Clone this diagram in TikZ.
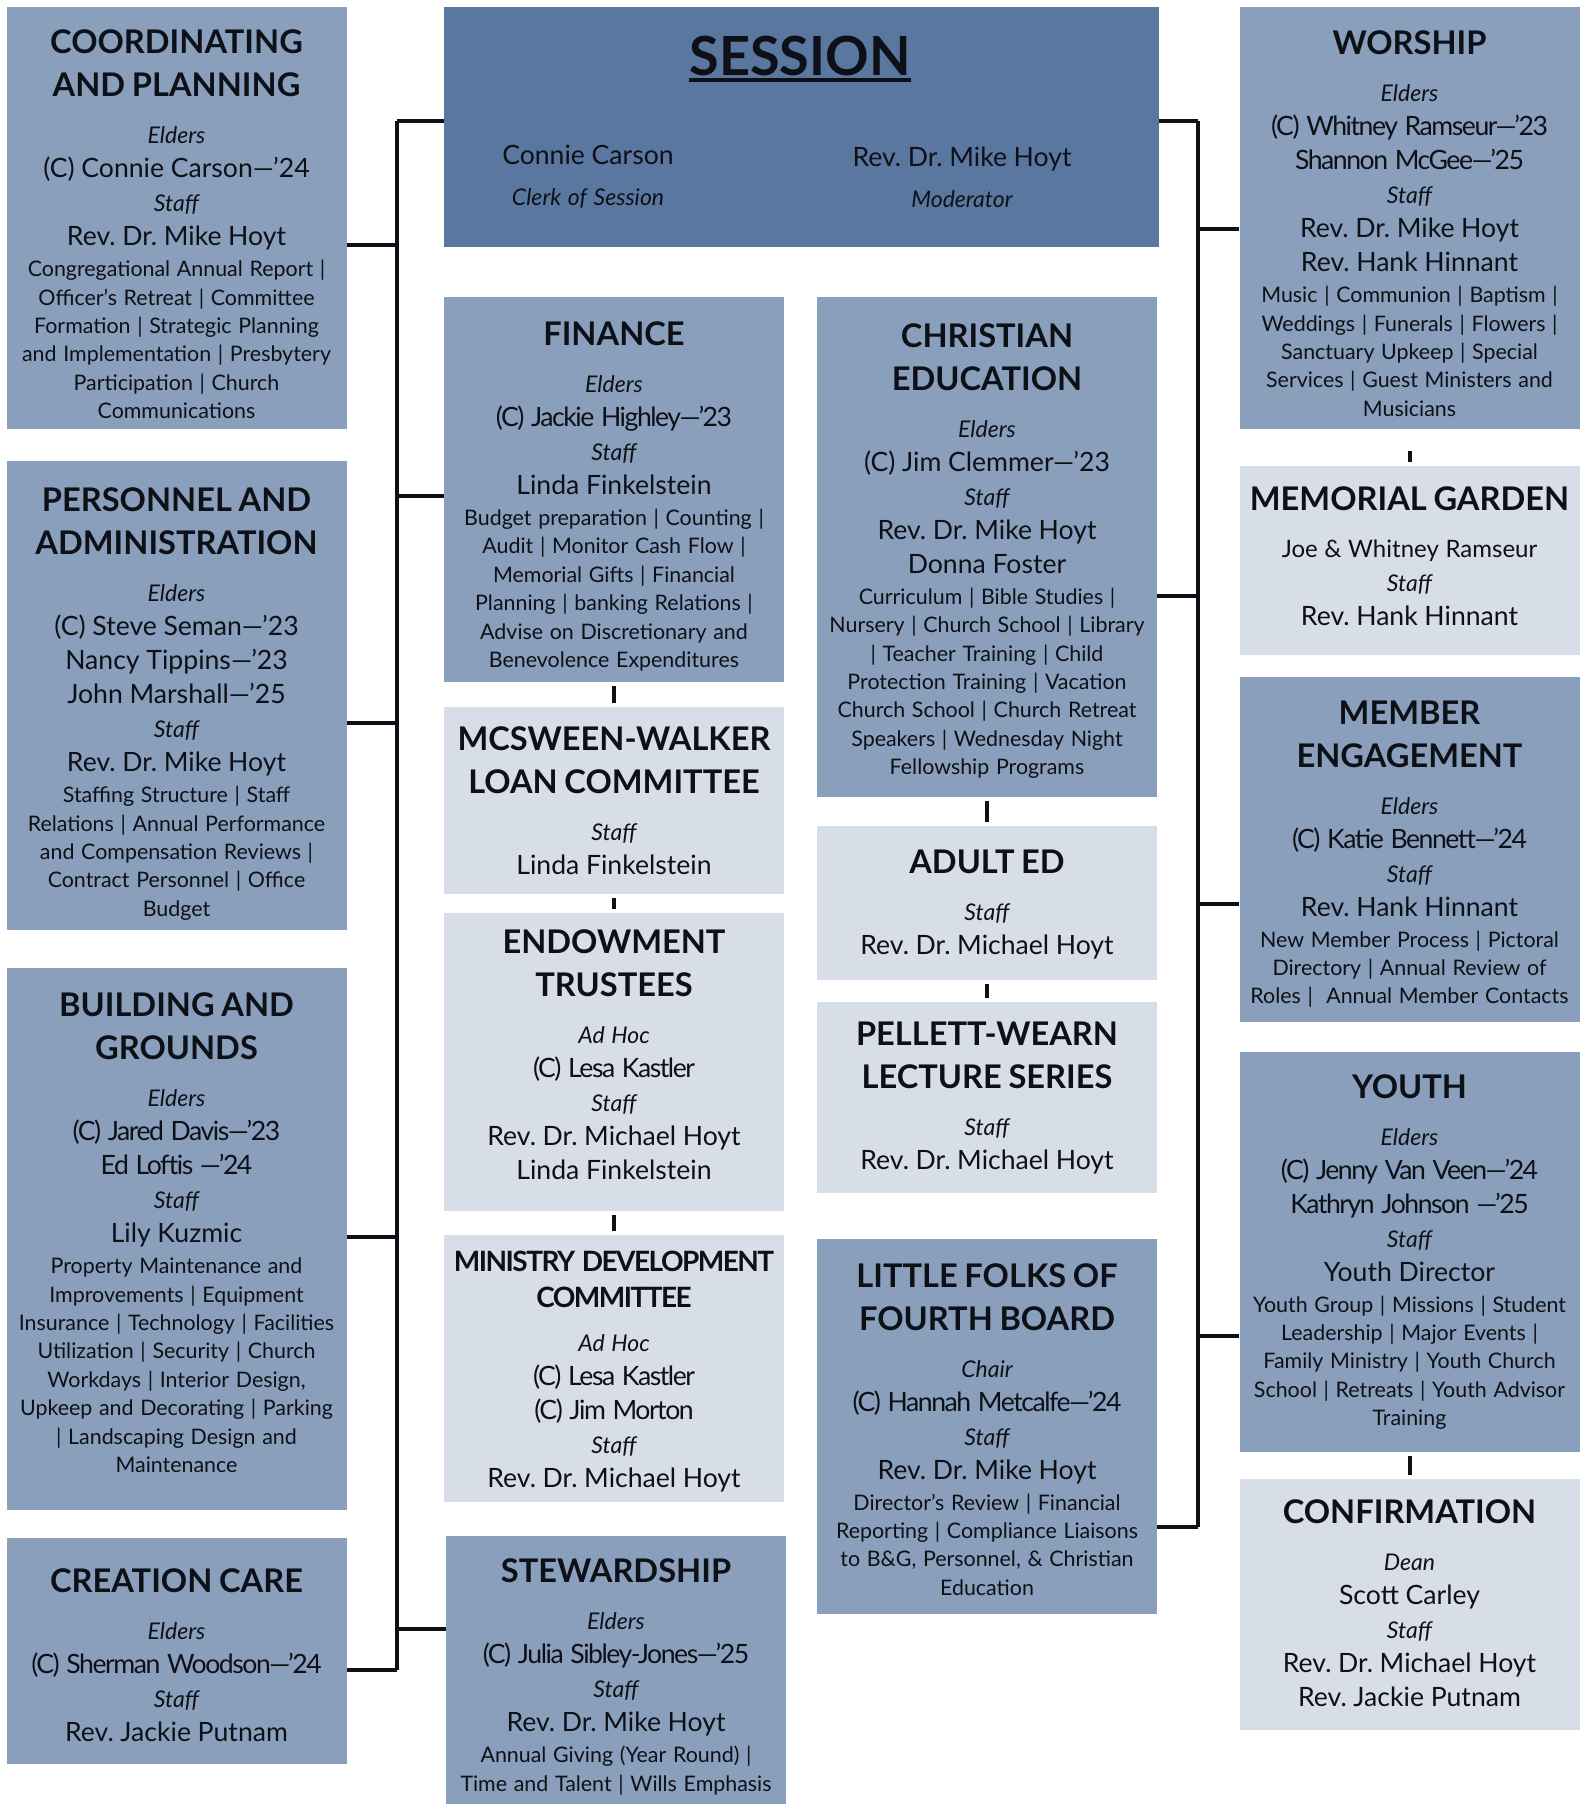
\documentclass[tikz,border=0pt]{standalone}
\usepackage{fontspec}
\setmainfont{Lato}
\usepackage{tikz}
\usepackage{xcolor}
\frenchspacing

\definecolor{sessblue}{RGB}{90,119,160}
\definecolor{midblue}{RGB}{137,159,188}
\definecolor{paleblue}{RGB}{215,222,232}
\definecolor{ink}{RGB}{13,17,23}

\newcommand{\boxtitle}[1]{{\fontsize{16.3}{21.5}\bfseries\selectfont #1\par}\vspace{6.5pt}}
\newcommand{\boxrole}[1]{{\fontsize{11.5}{17}\itshape\selectfont #1\par}}
\newcommand{\boxname}[1]{{\fontsize{13.3}{17}\selectfont #1\par}}
\newcommand{\boxduty}[1]{\vspace{1.3pt}{\fontsize{10.7}{14.2}\selectfont #1\par}}
\newcommand{\tightsp}{\addfontfeature{LetterSpace=-5.5}}
% moves the text of a box down by half the amount
\newcommand{\dropby}[1]{\par\nointerlineskip\vspace{-#1}\hbox{}}

\begin{document}
\begin{tikzpicture}[x=0.5pt,y=-0.5pt,
    box/.style={rectangle,align=center,text width=170pt,inner sep=0pt,text=ink},
    darkbox/.style={box,fill=sessblue},
    midbox/.style={box,fill=midblue},
    palebox/.style={box,fill=paleblue},
    link/.style={line width=1.6pt,ink},
    tick/.style={line width=2pt,ink,shorten <=2pt,shorten >=2pt}]
\useasboundingbox (0,0) rectangle (1581,1804);

% session
\node[darkbox,text width=357.5pt,minimum height=120pt] (session) at (801.5,127) {};
\node[inner sep=0pt,text=ink,font=\fontsize{27}{27}\bfseries\selectfont] (sesstitle) at (800,55.5) {SESSION};
\draw[line width=2.2pt,ink] ([yshift=-2pt]sesstitle.south west) -- ([yshift=-2pt]sesstitle.south east);
\node[box,text width=150pt] (clerk) at (588,177) {\boxname{Connie Carson}\vspace{3.5pt}\boxrole{Clerk of Session}};
\node[box,text width=150pt] (moder) at (962,177) {\boxname{Rev. Dr. Mike Hoyt}\vspace{3.5pt}\boxrole{Moderator}};

% left column
\node[midbox,minimum height=211pt] (coordpl) at (176.5,218) {
  \boxtitle{COORDINATING\\AND PLANNING}
  \boxrole{Elders}
  \boxname{(C) Connie Carson—’24}
  \boxrole{Staff}
  \boxname{Rev. Dr. Mike Hoyt}
  \boxduty{Congregational Annual Report |\\Officer’s Retreat | Committee\\Formation | Strategic Planning\\and Implementation | Presbytery\\Participation | Church\\Communications}
  \dropby{6.3pt}};
\node[midbox,minimum height=234.5pt] (pers) at (176.5,695.5) {
  \boxtitle{PERSONNEL AND\\ADMINISTRATION}
  \boxrole{Elders}
  \boxname{(C) Steve Seman—’23}
  \boxname{Nancy Tippins—’23}
  \boxname{John Marshall—’25}
  \boxrole{Staff}
  \boxname{Rev. Dr. Mike Hoyt}
  \boxduty{Staffing Structure | Staff\\Relations | Annual Performance\\and Compensation Reviews |\\Contract Personnel | Office\\Budget}
  \dropby{8.6pt}};
\node[midbox,minimum height=271pt] (build) at (176.5,1239) {
  \boxtitle{BUILDING AND\\GROUNDS}
  \boxrole{Elders}
  \boxname{\tightsp(C) Jared Davis—’23}
  \boxname{\tightsp Ed Loftis —’24}
  \boxrole{Staff}
  \boxname{Lily Kuzmic}
  \boxduty{Property Maintenance and\\Improvements | Equipment\\Insurance | Technology | Facilities\\Utilization | Security | Church\\Workdays | Interior Design,\\Upkeep and Decorating | Parking\\| Landscaping Design and\\Maintenance}
  \dropby{-6.3pt}};
\node[midbox,minimum height=113pt] (care) at (176.5,1651) {
  \boxtitle{CREATION CARE}
  \boxrole{Elders}
  \boxname{\tightsp(C) Sherman Woodson—’24}
  \boxrole{Staff}
  \boxname{Rev. Jackie Putnam}
  \dropby{4pt}};

% middle column
\node[midbox,minimum height=192.5pt] (fin) at (614,489.5) {
  \boxtitle{FINANCE}
  \boxrole{Elders}
  \boxname{\tightsp(C) Jackie Highley—’23}
  \boxrole{Staff}
  \boxname{Linda Finkelstein}
  \boxduty{Budget preparation | Counting |\\Audit | Monitor Cash Flow |\\Memorial Gifts | Financial\\Planning | banking Relations |\\Advise on Discretionary and\\Benevolence Expenditures}
  \dropby{6.9pt}};
\node[palebox,minimum height=93.5pt] (mcs) at (614,800.5) {
  \boxtitle{MCSWEEN-WALKER\\LOAN COMMITTEE}
  \boxrole{Staff}
  \boxname{Linda Finkelstein}};
\node[palebox,minimum height=149pt] (endow) at (614,1062) {
  \boxtitle{ENDOWMENT\\TRUSTEES}
  \boxrole{Ad Hoc}
  \boxname{\tightsp(C) Lesa Kastler}
  \boxrole{Staff}
  \boxname{Rev. Dr. Michael Hoyt}
  \boxname{Linda Finkelstein}
  \dropby{-7.5pt}};
\node[palebox,minimum height=133.5pt] (minis) at (614,1368.5) {
  {\fontsize{14}{17.8}\bfseries\selectfont\tightsp MINISTRY DEVELOPMENT\\COMMITTEE\par}\vspace{5pt}
  \boxrole{Ad Hoc}
  \boxname{\tightsp(C) Lesa Kastler}
  \boxname{\tightsp(C) Jim Morton}
  \boxrole{Staff}
  \boxname{Rev. Dr. Michael Hoyt}
  \dropby{2.9pt}};
\node[midbox,minimum height=134pt] (stew) at (616,1670) {
  \boxtitle{STEWARDSHIP}
  \boxrole{Elders}
  \boxname{\tightsp(C) Julia Sibley-Jones—’25}
  \boxrole{Staff}
  \boxname{Rev. Dr. Mike Hoyt}
  \boxduty{Annual Giving (Year Round) |\\Time and Talent | Wills Emphasis}
  \dropby{6.9pt}};

% third column
\node[midbox,minimum height=250pt] (christ) at (987,547) {
  \boxtitle{CHRISTIAN\\EDUCATION}
  \boxrole{Elders}
  \boxname{(C) Jim Clemmer—’23}
  \boxrole{Staff}
  \boxname{Rev. Dr. Mike Hoyt}
  \boxname{Donna Foster}
  \boxduty{Curriculum | Bible Studies |\\Nursery | Church School | Library\\| Teacher Training | Child\\Protection Training | Vacation\\Church School | Church Retreat\\Speakers | Wednesday Night\\Fellowship Programs}
  \dropby{4pt}};
\node[palebox,minimum height=77pt] (adult) at (987,903) {
  \boxtitle{ADULT ED}
  \boxrole{Staff}
  \boxname{Rev. Dr. Michael Hoyt}
  \dropby{1.7pt}};
\node[palebox,minimum height=95.5pt] (pell) at (987,1097.5) {
  \boxtitle{PELLETT-WEARN\\LECTURE SERIES}
  \boxrole{Staff}
  \boxname{Rev. Dr. Michael Hoyt}};
\node[midbox,minimum height=187.5pt] (folks) at (987,1426.5) {
  \boxtitle{LITTLE FOLKS OF\\FOURTH BOARD}
  \boxrole{Chair}
  \boxname{\tightsp(C) Hannah Metcalfe—’24}
  \boxrole{Staff}
  \boxname{Rev. Dr. Mike Hoyt}
  \boxduty{Director’s Review | Financial\\Reporting | Compliance Liaisons\\to B\&G, Personnel, \& Christian\\Education}
  \dropby{2.9pt}};

% right column
\node[midbox,minimum height=211pt] (worship) at (1409.5,218) {
  \boxtitle{WORSHIP}
  \boxrole{Elders}
  \boxname{\tightsp(C) Whitney Ramseur—’23}
  \boxname{\tightsp Shannon McGee—’25}
  \boxrole{Staff}
  \boxname{Rev. Dr. Mike Hoyt}
  \boxname{Rev. Hank Hinnant}
  \boxduty{Music | Communion | Baptism |\\Weddings | Funerals | Flowers |\\Sanctuary Upkeep | Special\\Services | Guest Ministers and\\Musicians}
  \dropby{5.7pt}};
\node[palebox,minimum height=94.5pt] (memo) at (1409.5,560.5) {
  \boxtitle{MEMORIAL GARDEN}
  {\fontsize{12}{17}\selectfont Joe \& Whitney Ramseur\par}
  \boxrole{Staff}
  \boxname{Rev. Hank Hinnant}
  \dropby{-4pt}};
\node[midbox,minimum height=172.5pt] (member) at (1409.5,849.5) {
  \boxtitle{MEMBER\\ENGAGEMENT}
  \boxrole{Elders}
  \boxname{\tightsp(C) Katie Bennett—’24}
  \boxrole{Staff}
  \boxname{Rev. Hank Hinnant}
  \boxduty{New Member Process | Pictoral\\Directory | Annual Review of\\Roles |~ Annual Member Contacts}
  \dropby{4.6pt}};
\node[midbox,minimum height=200pt] (youth) at (1409.5,1252) {
  \boxtitle{YOUTH}
  \boxrole{Elders}
  \boxname{\tightsp(C) Jenny Van Veen—’24}
  \boxname{\tightsp Kathryn Johnson —’25}
  \boxrole{Staff}
  \boxname{Youth Director}
  \boxduty{Youth Group | Missions | Student\\Leadership | Major Events |\\Family Ministry | Youth Church\\School | Retreats | Youth Advisor\\Training}};
\node[palebox,minimum height=125.5pt] (confirm) at (1409.5,1604.5) {
  \boxtitle{CONFIRMATION}
  \boxrole{Dean}
  \boxname{Scott Carley}
  \boxrole{Staff}
  \boxname{Rev. Dr. Michael Hoyt}
  \boxname{Rev. Jackie Putnam}
  \dropby{-1.7pt}};

% left trunk
\coordinate (ltop) at (397,121);
\coordinate (lbot) at (397,1670);
\draw[link] (ltop) -- (lbot);
\draw[link] (ltop) -- (ltop -| session.west);
\foreach \n/\yy in {coordpl/245, pers/723, build/1237, care/1670}{
  \coordinate (lj-\n) at (397,\yy);
  \draw[link] (lj-\n) -- (lj-\n -| \n.east);
}
\foreach \n/\yy in {fin/496, stew/1629}{
  \coordinate (lj-\n) at (397,\yy);
  \draw[link] (lj-\n) -- (lj-\n -| \n.west);
}

% right trunk
\coordinate (rtop) at (1198,121);
\coordinate (rbot) at (1198,1527);
\draw[link] (rtop) -- (rbot);
\draw[link] (rtop) -- (rtop -| session.east);
\foreach \n/\yy in {christ/596, folks/1527}{
  \coordinate (rj-\n) at (1198,\yy);
  \draw[link] (rj-\n) -- (rj-\n -| \n.east);
}
\foreach \n/\yy in {worship/229, member/904, youth/1336}{
  \coordinate (rj-\n) at (1198,\yy);
  \draw[link] (rj-\n) -- (rj-\n -| \n.west);
}

% stubs between stacked boxes
\foreach \a/\b in {fin/mcs, mcs/endow, endow/minis, christ/adult, adult/pell, youth/confirm}
  \draw[tick] (\a.south) -- (\b.north);
\draw[tick,shorten <=11pt] (worship.south) -- (memo.north);
\end{tikzpicture}
\end{document}
